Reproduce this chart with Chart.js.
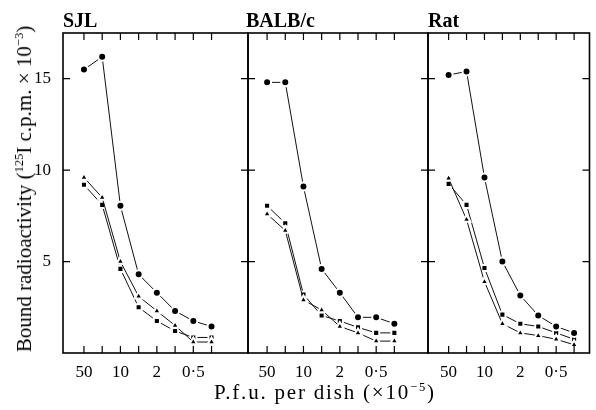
<!DOCTYPE html>
<html>
<head>
<meta charset="utf-8">
<script src="https://cdn.jsdelivr.net/npm/chart.js@4/dist/chart.umd.min.js"></script>
<style>
  html, body { margin: 0; padding: 0; background: #fff; }
  #wrap { position: relative; width: 596px; height: 410px; background: #fff; font-family: "Liberation Serif", serif; color: #000; }
  canvas { position: absolute; left: 0; top: 0; }
  .ptitle { position: absolute; top: 10px; line-height: 20px; font-size: 20px; font-weight: bold; white-space: nowrap; }
  .ytitle { position: absolute; left: 24px; top: 189px; font-size: 21px; line-height: 20px; white-space: nowrap; transform: translate(-50%, -50%) rotate(-90deg); }
  .xtitle { position: absolute; left: 325px; top: 382px; font-size: 21px; line-height: 20px; letter-spacing: 1.8px; white-space: nowrap; transform: translateX(-50%); }
  sup { font-size: 0.6em; line-height: 0; vertical-align: 0.6em; }
</style>
</head>
<body>
<div id="wrap">
  <canvas id="c1" width="596" height="410"></canvas>
  <canvas id="c2" width="596" height="410"></canvas>
  <canvas id="c3" width="596" height="410"></canvas>
  <div class="ptitle" style="left:63px">SJL</div>
  <div class="ptitle" style="left:246px">BALB/c</div>
  <div class="ptitle" style="left:428px">Rat</div>
  <div class="ytitle">Bound radioactivity (<sup>125</sup>I c.p.m. × 10<sup>−3</sup>)</div>
  <div class="xtitle">P.f.u. per dish (×10<sup>−5</sup>)</div>
</div>
<script>
// p.f.u. per dish (x10^-5), one point per dilution
const doses = [50, 20, 10, 5, 2, 1, 0.5, 0.2];
const xLabels = ['50', '', '10', '', '2', '', '0·5', ''];
const yTicks = [5, 10, 15];

// SJL cells
const sjlCircle   = [15.5, 16.2, 8.05, 4.3, 3.3, 2.3, 1.75, 1.45];
const sjlTriangle = [9.6, 8.5, 5.0, 3.1, 2.3, 1.5, 0.6, 0.6];
const sjlSquare   = [9.2, 8.1, 4.6, 2.5, 1.75, 1.2, 0.85, 0.85];

// BALB/c cells
const balbCircle   = [14.8, 14.8, 9.1, 4.6, 3.3, 1.95, 1.95, 1.6];
const balbTriangle = [7.6, 6.7, 2.9, 2.35, 1.45, 1.1, 0.65, 0.65];
const balbSquare   = [8.05, 7.1, 3.2, 2.05, 1.75, 1.4, 1.1, 1.1];

// Rat cells
const ratCircle   = [15.2, 15.4, 9.6, 5.0, 3.15, 2.05, 1.45, 1.1];
const ratTriangle = [9.55, 7.3, 3.9, 1.6, 1.1, 0.95, 0.75, 0.45];
const ratSquare   = [9.25, 8.1, 4.65, 2.1, 1.6, 1.45, 1.1, 0.75];

const FONT = '"Liberation Serif", serif';

// box round each panel plus inward ticks
const framePlugin = {
  id: 'frame',
  afterDatasetsDraw(chart) {
    const { ctx, chartArea: a, scales: { x, y } } = chart;
    ctx.save();
    ctx.strokeStyle = '#000';
    ctx.lineWidth = 1.6;
    ctx.strokeRect(a.left, a.top, a.right - a.left, a.bottom - a.top);
    ctx.lineWidth = 1.2;
    ctx.beginPath();
    doses.forEach((d, i) => {
      const px = x.getPixelForValue(i);
      ctx.moveTo(px, a.top); ctx.lineTo(px, a.top + 7);
      ctx.moveTo(px, a.bottom); ctx.lineTo(px, a.bottom - 7);
    });
    yTicks.forEach(v => {
      const py = y.getPixelForValue(v);
      ctx.moveTo(a.left, py); ctx.lineTo(a.left + 7, py);
      ctx.moveTo(a.right, py); ctx.lineTo(a.right - 7, py);
    });
    ctx.stroke();
    ctx.restore();
  }
};

function series(values, style, radius) {
  return {
    data: values.map((v, i) => ({ x: i, y: v })),
    borderColor: '#111',
    borderWidth: 1,
    pointStyle: style,
    pointRadius: radius,
    pointBackgroundColor: '#000',
    pointBorderColor: '#fff',
    pointBorderWidth: 2,
    tension: 0
  };
}

function makePanel(id, circle, triangle, square, opts) {
  new Chart(document.getElementById(id), {
    type: 'line',
    data: {
      datasets: [
        series(circle, 'circle', 4),
        series(triangle, 'triangle', 4.5),
        series(square, 'rect', 4.3)
      ]
    },
    options: {
      responsive: false,
      animation: false,
      devicePixelRatio: 1,
      layout: { padding: { top: 33, bottom: 0, left: opts.left, right: opts.right } },
      plugins: { legend: { display: false }, tooltip: { enabled: false } },
      scales: {
        x: {
          type: 'linear',
          min: opts.xMin,
          max: opts.xMax,
          grid: { display: false, drawTicks: false },
          border: { display: false },
          afterBuildTicks: s => { s.ticks = doses.map((d, i) => ({ value: i })); },
          afterFit: s => { s.height = 57; s.paddingLeft = 0; s.paddingRight = 0; },
          ticks: {
            autoSkip: false,
            maxRotation: 0,
            padding: 9,
            color: '#000',
            font: { family: FONT, size: 17 },
            callback: v => xLabels[v] ?? ''
          }
        },
        y: {
          display: opts.showY,
          min: 0,
          max: 17.5,
          grid: { display: false, drawTicks: false },
          border: { display: false },
          afterBuildTicks: s => { s.ticks = yTicks.map(v => ({ value: v })); },
          afterFit: s => { s.width = opts.showY ? 63 : 0; },
          ticks: {
            padding: 12,
            color: '#000',
            font: { family: FONT, size: 17 }
          }
        }
      }
    },
    plugins: [framePlugin]
  });
}

// panel edges: 63 | 248 | 428 | 592
makePanel('c1', sjlCircle, sjlTriangle, sjlSquare,
  { showY: true, xMin: -1.15, xMax: 9.0, left: 0, right: 596 - 248 });
makePanel('c2', balbCircle, balbTriangle, balbSquare,
  { showY: false, xMin: -1.05, xMax: 8.85, left: 248, right: 596 - 428 });
makePanel('c3', ratCircle, ratTriangle, ratSquare,
  { showY: false, xMin: -1.15, xMax: 7.86, left: 428, right: 596 - 592 });
</script>
</body>
</html>
